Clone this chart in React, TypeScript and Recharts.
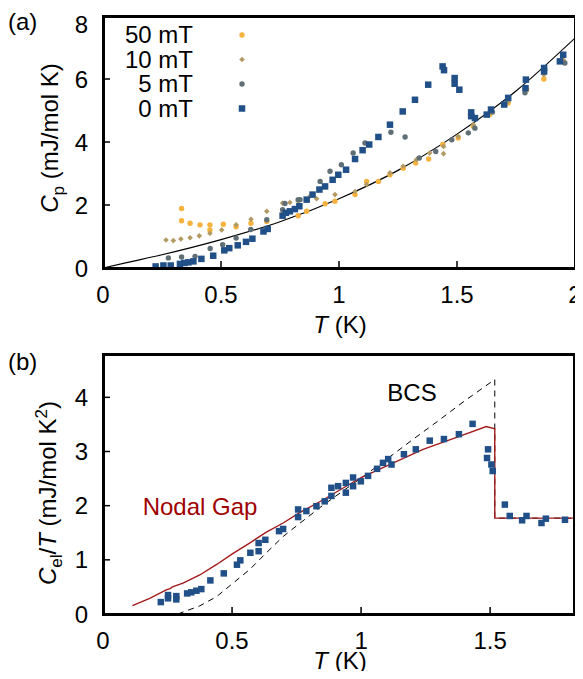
import React from 'react';
import { ComposedChart, Scatter, Line, XAxis, YAxis } from 'recharts';

const FONT = '"Liberation Sans", Arial, Helvetica, sans-serif';
const FS = 24;

// panel (a): C_p vs T for four fields
const t50 = [0.333, 0.333, 0.369, 0.411, 0.453, 0.453, 0.51, 0.564, 0.627, 0.694, 0.761, 0.827, 0.863, 0.941, 0.983, 1.068, 1.117, 1.167, 1.216, 1.272, 1.325, 1.38, 1.44, 1.505, 1.569, 1.638, 1.717, 1.795, 1.868, 1.95];
const c50 = [1.89, 1.5, 1.42, 1.37, 1.37, 1.21, 1.39, 1.31, 1.42, 1.48, 1.69, 1.66, 1.8, 2.04, 2.12, 2.33, 2.75, 2.75, 2.96, 3.17, 3.33, 3.46, 3.92, 4.13, 4.5, 4.87, 5.24, 5.66, 6.0, 6.56];

const t10 = [0.267, 0.298, 0.33, 0.369, 0.408, 0.453, 0.503, 0.564, 0.627, 0.694, 0.761, 0.792, 0.827, 0.877, 0.905, 0.983, 1.068, 1.117, 1.216, 1.272, 1.328, 1.384, 1.443, 1.443, 1.505, 1.569, 1.638, 1.717, 1.795, 1.868, 1.95];
const c10 = [0.89, 0.87, 0.92, 0.96, 1.02, 1.1, 1.21, 1.37, 1.55, 1.8, 2.06, 2.08, 2.12, 2.28, 2.2, 2.33, 2.43, 2.65, 3.02, 3.23, 3.44, 3.65, 3.86, 3.63, 4.18, 4.55, 4.92, 5.29, 5.71, 6.14, 6.61];

const t5 = [0.277, 0.333, 0.39, 0.454, 0.507, 0.564, 0.626, 0.694, 0.761, 0.771, 0.827, 0.835, 0.92, 0.962, 1.01, 1.06, 1.11, 1.22, 1.28, 1.34, 1.41, 1.478, 1.548, 1.576, 1.65, 1.788, 1.957];
const c5 = [0.32, 0.35, 0.37, 0.62, 0.74, 0.95, 1.22, 1.53, 1.85, 2.05, 2.17, 2.17, 2.75, 3.07, 3.28, 3.65, 3.97, 4.31, 4.16, 3.49, 3.7, 4.07, 4.29, 4.44, 4.95, 5.56, 6.51];

const t0 = [0.223, 0.256, 0.287, 0.326, 0.345, 0.362, 0.383, 0.417, 0.467, 0.514, 0.535, 0.571, 0.606, 0.633, 0.68, 0.698, 0.761, 0.775, 0.792, 0.813, 0.832, 0.863, 0.888, 0.917, 0.941, 0.973, 0.997, 1.03, 1.068, 1.1, 1.128, 1.167, 1.216, 1.27, 1.322, 1.378, 1.439, 1.445, 1.49, 1.49, 1.51, 1.56, 1.56, 1.576, 1.626, 1.644, 1.7, 1.717, 1.79, 1.792, 1.869, 1.869, 1.936, 1.95];
const c0 = [0.05, 0.08, 0.08, 0.13, 0.16, 0.18, 0.21, 0.29, 0.39, 0.56, 0.63, 0.72, 0.83, 0.93, 1.16, 1.24, 1.66, 1.75, 1.8, 1.87, 1.96, 2.17, 2.33, 2.49, 2.59, 2.8, 2.96, 3.12, 3.46, 3.74, 3.92, 4.16, 4.55, 4.97, 5.34, 5.82, 6.4, 6.28, 6.03, 5.85, 5.66, 4.94, 4.82, 4.76, 4.87, 5.03, 5.19, 5.4, 5.71, 5.98, 6.24, 6.35, 6.56, 6.77];

const fitT = [0, 0.1, 0.25, 0.5, 0.75, 1.0, 1.25, 1.5, 1.75, 2.0];
const fitC = [0, 0.17, 0.42, 0.9, 1.47, 2.2, 3.1, 4.25, 5.62, 7.3];

// panel (b): C_el/T vs T
const tEl = [0.224, 0.252, 0.252, 0.284, 0.284, 0.326, 0.342, 0.362, 0.381, 0.416, 0.468, 0.519, 0.532, 0.571, 0.603, 0.603, 0.629, 0.682, 0.698, 0.756, 0.756, 0.788, 0.827, 0.859, 0.885, 0.885, 0.911, 0.941, 0.941, 0.969, 0.969, 0.999, 1.027, 1.062, 1.085, 1.105, 1.118, 1.166, 1.212, 1.266, 1.321, 1.379, 1.432, 1.488, 1.492, 1.505, 1.51, 1.557, 1.576, 1.624, 1.641, 1.699, 1.716, 1.79];
const cEl = [0.22, 0.29, 0.35, 0.33, 0.27, 0.38, 0.4, 0.43, 0.46, 0.62, 0.75, 0.91, 0.99, 1.13, 1.16, 1.31, 1.37, 1.53, 1.57, 1.79, 1.93, 1.9, 1.99, 2.08, 2.18, 2.33, 2.36, 2.42, 2.24, 2.52, 2.36, 2.45, 2.55, 2.68, 2.79, 2.86, 2.76, 2.95, 3.04, 3.2, 3.23, 3.32, 3.51, 2.88, 3.04, 2.76, 2.64, 2.02, 1.81, 1.73, 1.81, 1.68, 1.76, 1.74];

const nodalT = [0.114, 0.181, 0.245, 0.26, 0.269, 0.31, 0.375, 0.439, 0.504, 0.568, 0.633, 0.698, 0.762, 0.85, 1.0, 1.24, 1.37, 1.485, 1.518, 1.518, 1.825];
const nodalC = [0.155, 0.29, 0.445, 0.47, 0.5, 0.57, 0.72, 0.91, 1.12, 1.31, 1.51, 1.68, 1.87, 2.1, 2.52, 3.04, 3.26, 3.46, 3.42, 1.77, 1.77];

const bcsT = [0.29, 0.375, 0.44, 0.504, 0.568, 0.633, 0.698, 0.724, 0.85, 1.0, 1.1, 1.2, 1.3, 1.4, 1.518, 1.518, 1.825];
const bcsC = [0, 0.15, 0.32, 0.57, 0.82, 1.13, 1.43, 1.53, 2.0, 2.51, 2.86, 3.22, 3.57, 3.93, 4.33, 1.77, 1.77];

const xTicksA = [0, 0.5, 1, 1.5, 2];
const yTicksA = [0, 2, 4, 6, 8];
const xTicksB = [0, 0.5, 1, 1.5];
const yTicksB = [0, 1, 2, 3, 4];

const pairs = (t: number[], c: number[]) => t.map((T, i) => ({ T, C: c[i] }));

const ORANGE = '#f5b23f';
const TAN = '#b39a63';
const GREY = '#5f6f75';
const BLUE = '#215089';
const RED = '#a3191b';

const dot = (color: string, r: number) => (p: any) => <circle cx={p.cx} cy={p.cy} r={r} fill={color} />;
const diamond = (color: string, s: number) => (p: any) => (
  <path d={`M${p.cx},${p.cy - s}L${p.cx + s},${p.cy}L${p.cx},${p.cy + s}L${p.cx - s},${p.cy}Z`} fill={color} />
);
const square = (color: string, s: number) => (p: any) => (
  <rect x={p.cx - s / 2} y={p.cy - s / 2} width={s} height={s} fill={color} />
);

const fmt = (v: number) => String(v);
const TICK = 7;

const BottomTick = (dy: number) => (props: any) => {
  const { x, y, payload } = props;
  return (
    <g>
      <rect x={x - 0.75} y={y - TICK} width={1.5} height={TICK} fill="#000" />
      <text x={x} y={y + dy} textAnchor="middle" fontSize={FS} fontFamily={FONT} fill="#000">{fmt(payload.value)}</text>
    </g>
  );
};
const TopTick = (props: any) => (
  <rect x={props.x - 0.75} y={props.y} width={1.5} height={TICK} fill="#000" />
);
const LeftTick = (props: any) => {
  const { x, y, payload } = props;
  // the topmost label of panel (a) sits a little lower, as in the original
  const ty = Math.max(y + 8.5, 24.5);
  return (
    <g>
      <rect x={x} y={y - 0.75} width={TICK} height={1.5} fill="#000" />
      <text x={x - 15} y={ty} textAnchor="end" fontSize={FS} fontFamily={FONT} fill="#000">{fmt(payload.value)}</text>
    </g>
  );
};
const RightTick = (props: any) => (
  <rect x={props.x - TICK} y={props.y - 0.75} width={TICK} height={1.5} fill="#000" />
);

const abs = (left: number, top: number, extra: React.CSSProperties = {}): React.CSSProperties => ({
  position: 'absolute', left, top, fontSize: FS, lineHeight: 1, whiteSpace: 'nowrap', ...extra,
});
const centered = (cx: number, cy: number, extra: React.CSSProperties = {}): React.CSSProperties =>
  abs(cx, cy, { transform: 'translate(-50%, -50%)', ...extra });
const rotated = (cx: number, cy: number): React.CSSProperties =>
  abs(cx, cy, { transform: 'translate(-50%, -50%) rotate(-90deg)' });

// plot frames drawn as four solid bars each
const bar = (left: number, top: number, width: number, height: number): React.CSSProperties => ({
  position: 'absolute', left, top, width, height, background: '#000', zIndex: 5,
});
const Frame = ({ l, t, w, h }: { l: number; t: number; w: number; h: number }) => (
  <>
    <div style={bar(l - 1.5, t - 1.5, w + 3, 3)} />
    <div style={bar(l - 1.5, t + h - 1.5, w + 3, 3)} />
    <div style={bar(l - 1.5, t - 1.5, 3, h + 3)} />
    <div style={bar(l + w - 1.5, t - 1.5, 3, h + 3)} />
  </>
);

const sub: React.CSSProperties = { fontSize: 17, position: 'relative', top: 6 };
const sup: React.CSSProperties = { fontSize: 17, position: 'relative', top: -9 };

const legendRows = [
  { label: '50 mT', cy: 27 },
  { label: '10 mT', cy: 51.5 },
  { label: '5 mT', cy: 76 },
  { label: '0 mT', cy: 100.5 },
];

export default function App() {
  return (
    <div style={{ position: 'relative', width: 575, height: 663, fontFamily: FONT, color: '#000' }}>
      <style>{'html, body { overflow: hidden; }'}</style>
      <div style={{ position: 'absolute', left: 0, top: 0 }}>
        <ComposedChart width={575} height={300} margin={{ top: 8, right: 8, bottom: 0, left: 0 }}>
          <XAxis dataKey="T" type="number" domain={[0, 2]} ticks={xTicksA} interval={0} height={40}
            allowDataOverflow axisLine={false} tickLine={false} tickSize={0} tickMargin={0} tick={BottomTick(35)} />
          <XAxis xAxisId="top" orientation="top" dataKey="T" type="number" domain={[0, 2]} ticks={xTicksA} interval={0}
            height={0} axisLine={false} tickLine={false} tickSize={0} tickMargin={0} tick={TopTick} />
          <YAxis dataKey="C" type="number" domain={[0, 8]} ticks={yTicksA} interval={0} width={95}
            allowDataOverflow axisLine={false} tickLine={false} tickSize={0} tickMargin={0} tick={LeftTick} />
          <YAxis yAxisId="right" orientation="right" dataKey="C" type="number" domain={[0, 8]} ticks={yTicksA} interval={0}
            width={0} axisLine={false} tickLine={false} tickSize={0} tickMargin={0} tick={RightTick} />
          <Scatter data={pairs(t50, c50)} shape={dot(ORANGE, 2.7)} isAnimationActive={false} />
          <Scatter data={pairs(t10, c10)} shape={diamond(TAN, 2.8)} isAnimationActive={false} />
          <Scatter data={pairs(t5, c5)} shape={dot(GREY, 2.7)} isAnimationActive={false} />
          <Scatter data={pairs(t0, c0)} shape={square(BLUE, 6.5)} isAnimationActive={false} />
          <Line data={pairs(fitT, fitC)} dataKey="C" type="monotone" stroke="#000" strokeWidth={1.2}
            dot={false} activeDot={false} isAnimationActive={false} />
        </ComposedChart>
      </div>
      <Frame l={95} t={8} w={472} h={252} />

      <div style={{ position: 'absolute', left: 0, top: 310 }}>
        <ComposedChart width={575} height={353} margin={{ top: 36, right: 9, bottom: 0, left: 0 }}>
          <XAxis dataKey="T" type="number" domain={[0, 1.825]} ticks={xTicksB} interval={0} height={57}
            allowDataOverflow axisLine={false} tickLine={false} tickSize={0} tickMargin={0} tick={BottomTick(35)} />
          <XAxis xAxisId="top" orientation="top" dataKey="T" type="number" domain={[0, 1.825]} ticks={xTicksB} interval={0}
            height={0} axisLine={false} tickLine={false} tickSize={0} tickMargin={0} tick={TopTick} />
          <YAxis dataKey="C" type="number" domain={[0, 4.8]} ticks={yTicksB} interval={0} width={95}
            allowDataOverflow axisLine={false} tickLine={false} tickSize={0} tickMargin={0} tick={LeftTick} />
          <YAxis yAxisId="right" orientation="right" dataKey="C" type="number" domain={[0, 4.8]} ticks={yTicksB} interval={0}
            width={0} axisLine={false} tickLine={false} tickSize={0} tickMargin={0} tick={RightTick} />
          <Line data={pairs(bcsT, bcsC)} dataKey="C" type="linear" stroke="#000" strokeWidth={1} strokeDasharray="6 5"
            dot={false} activeDot={false} isAnimationActive={false} />
          <Line data={pairs(nodalT, nodalC)} dataKey="C" type="linear" stroke={RED} strokeWidth={1.4}
            dot={false} activeDot={false} isAnimationActive={false} />
          <Scatter data={pairs(tEl, cEl)} shape={square(BLUE, 6.5)} isAnimationActive={false} />
        </ComposedChart>
      </div>
      <Frame l={95} t={346} w={471} h={260} />

      {/* legend of panel (a) */}
      {legendRows.map((r) => (
        <div key={r.label} style={abs(0, r.cy - 12, { width: 185, textAlign: 'right' })}>{r.label}</div>
      ))}
      <svg width={20} height={120} style={{ position: 'absolute', left: 224, top: 0 }}>
        <circle cx={10} cy={27} r={2.7} fill={ORANGE} />
        <path d="M10,48.7L12.8,51.5L10,54.3L7.2,51.5Z" fill={TAN} />
        <circle cx={10} cy={76} r={2.7} fill={GREY} />
        <rect x={6.75} y={97.25} width={6.5} height={6.5} fill={BLUE} />
      </svg>

      <div style={abs(0, 2)}>(a)</div>
      <div style={abs(0, 342)}>(b)</div>

      <div style={centered(332, 317)}><i>T</i> (K)</div>
      <div style={centered(332, 653)}><i>T</i> (K)</div>

      <div style={rotated(42, 130)}><i>C</i><span style={sub}>p</span> (mJ/mol K)</div>
      <div style={rotated(40, 485)}>
        <i>C</i><span style={sub}>el</span>/<i>T</i> (mJ/mol K<span style={sup}>2</span>)
      </div>

      <div style={centered(404, 385)}>BCS</div>
      <div style={centered(192, 499, { color: '#a00000' })}>Nodal Gap</div>
    </div>
  );
}
